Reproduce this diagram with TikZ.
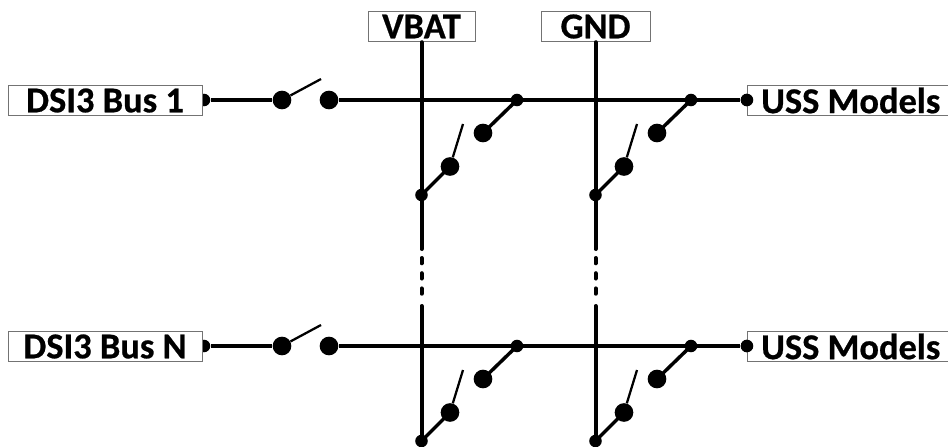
\documentclass[tikz,border=0pt]{standalone}
\usepackage{fontspec}
\setmainfont{Carlito}[BoldFeatures={FakeBold=0.6}]
\tikzset{
  x=0.75pt,y=-0.75pt,
  lbl/.style={draw=black!55,line width=0.6pt,fill=white,inner sep=0pt,minimum height=23pt,font=\fontsize{27.3}{30}\selectfont\bfseries,text=black},
  bigdot/.style={circle,fill=black,inner sep=0pt,minimum size=14pt},
  smalldot/.style={circle,fill=black,inner sep=0pt,minimum size=9.4pt},
  wire/.style={line width=3pt,black},
  blade/.style={line width=1.7pt,black},
  arm/.style={line width=2.6pt,black},
}
\begin{document}
\begin{tikzpicture}
\useasboundingbox (0,0) rectangle (948,446);
% junction points
\foreach \r/\y in {a/100,b/346}{
  \node[smalldot] (in\r) at (204,\y) {};
  \node[bigdot] (sl\r) at (282,\y) {};
  \node[bigdot] (sr\r) at (329,\y) {};
  \coordinate (st\r) at (321,\y-21);
  \node[smalldot] (jv\r) at (517,\y) {};
  \node[smalldot] (jg\r) at (691,\y) {};
  \node[bigdot] (cv\r) at (483,\y+33) {};
  \node[bigdot] (cg\r) at (657,\y+33) {};
  \node[bigdot] (pv\r) at (450,\y+66.5) {};
  \node[bigdot] (pg\r) at (624,\y+66.5) {};
  \coordinate (tv\r) at (463,\y+24);
  \coordinate (tg\r) at (637,\y+24);
  \node[smalldot] (lv\r) at (421.5,\y+95) {};
  \node[smalldot] (lg\r) at (595.5,\y+95) {};
  \node[smalldot] (ou\r) at (747,\y) {};
  \draw[wire] (in\r) -- (sl\r);
  \draw[wire] (sr\r) -- (ou\r);
  \draw[blade] (sl\r) -- (st\r);
  \draw[arm] (jv\r.center) -- (cv\r.center);
  \draw[arm] (jg\r.center) -- (cg\r.center);
  \draw[arm] (lv\r.center) -- (pv\r.center);
  \draw[arm] (lg\r.center) -- (pg\r.center);
  \draw[blade] (pv\r) -- (tv\r);
  \draw[blade] (pg\r) -- (tg\r);
}
% rails
\node[lbl,minimum width=80.25pt] (vbat) at (421.5,26.5) {VBAT};
\node[lbl,minimum width=81.75pt] (gnd) at (595.5,26.5) {GND};
\coordinate (ve) at (421.5,249);
\coordinate (ge) at (595.5,249);
\coordinate (vd1) at (421.5,258);
\coordinate (vd2) at (421.5,296);
\coordinate (gd1) at (595.5,258);
\coordinate (gd2) at (595.5,296);
\coordinate (vs) at (421.5,306);
\coordinate (gs) at (595.5,306);
\draw[wire,line cap=round] (vbat) -- (ve);
\draw[wire,line cap=round] (gnd) -- (ge);
\draw[wire,line cap=round,dash pattern=on 4pt off 7.4pt] (vd1) -- (vd2);
\draw[wire,line cap=round,dash pattern=on 4pt off 7.4pt] (gd1) -- (gd2);
\draw[wire,line cap=round] (vs) -- (lvb);
\draw[wire,line cap=round] (gs) -- (lgb);
% labels
\node[lbl,minimum width=145.5pt] (bus1) at (105,100.5) {DSI3 Bus 1};
\node[lbl,minimum width=145.5pt] (busn) at (105,346.5) {DSI3 Bus N};
\node[lbl,minimum width=151pt,anchor=west] (uss1) at (747,100.5) {\hspace{4pt}USS Models};
\node[lbl,minimum width=151pt,anchor=west] (ussn) at (747,346.5) {\hspace{4pt}USS Models};
\node[smalldot] at (oua.center) {};
\node[smalldot] at (oub.center) {};
\end{tikzpicture}
\end{document}
